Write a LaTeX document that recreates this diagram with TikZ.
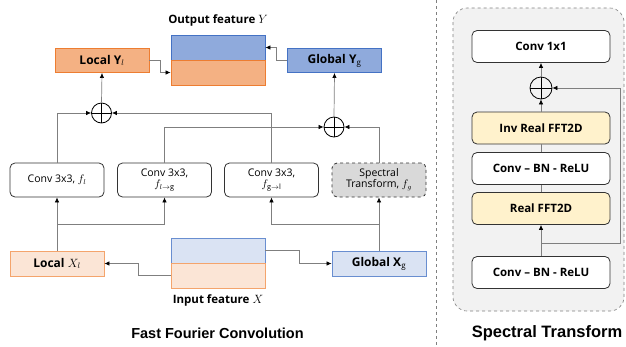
\documentclass[tikz,border=0pt]{standalone}
\usepackage{fontspec}
\setmainfont{Open Sans}
\newfontfamily\titlefont{Liberation Sans}
\usetikzlibrary{arrows.meta}
\definecolor{orF}{HTML}{F4B183}
\definecolor{orD}{HTML}{ED7D31}
\definecolor{blF}{HTML}{8FAADC}
\definecolor{blD}{HTML}{4472C4}
\definecolor{orL}{HTML}{FBE5D6}
\definecolor{orLD}{HTML}{F4A46C}
\definecolor{blL}{HTML}{DAE3F3}
\definecolor{ylF}{HTML}{FFF2CC}
\definecolor{lineC}{HTML}{7F7F7F}
\definecolor{bgG}{HTML}{F2F2F2}
\tikzset{
  feat/.style={draw, line width=0.9pt, minimum width=94pt, minimum height=25pt, inner sep=0pt, font=\bfseries\fontsize{12}{14}\selectfont},
  convbox/.style={draw=black!80, line width=0.8pt, rounded corners=5pt, fill=white, minimum width=94pt, minimum height=34pt, inner sep=1pt, align=center, font=\fontsize{10.5}{12}\selectfont},
  stbox/.style={draw=black!80, line width=0.8pt, rounded corners=5pt, minimum width=138pt, minimum height=32pt, inner sep=0pt, font=\bfseries\fontsize{11.5}{13}\selectfont},
  plus/.style={draw, circle, line width=0.8pt, minimum size=20pt, inner sep=0pt, path picture={
    \draw[line width=0.8pt] (path picture bounding box.north) -- (path picture bounding box.south)
      (path picture bounding box.west) -- (path picture bounding box.east);}},
  conn/.style={draw=lineC, line width=0.7pt},
  arr/.style={conn, -{Latex[length=5pt,width=4.5pt,color=black]}},
  lbl/.style={font=\bfseries\fontsize{11.5}{13}\selectfont},
  ttl/.style={font=\titlefont\bfseries\fontsize{14.5}{16}\selectfont},
}
\begin{document}
\begin{tikzpicture}[x=1pt,y=-1pt]
\useasboundingbox (0,0) rectangle (626,346);
% separator
\draw[lineC, dashed, line width=0.6pt] (436,0) -- (436,346);

% ---------- left panel ----------
\node[lbl] (outT) at (218,20) {Output feature $Y$};
\node[feat, fill=blF, draw=blD] (outB) at (218,47.5) {};
\node[feat, fill=orF, draw=orD] (outO) at (218,72.5) {};
\node[feat, fill=orF, draw=orD, minimum height=24pt] (ly) at (102,60.5) {Local Y$_{l}$};
\node[feat, fill=blF, draw=blD, minimum height=24pt] (gy) at (334.5,60.5) {Global Y$_{\mathrm{g}}$};

\node[plus] (p1) at (101.5,113) {};
\node[plus] (p2) at (334,127) {};

\node[convbox] (c1) at (57,180) {Conv 3x3, $f_l$};
\node[convbox] (c2) at (164.5,180) {Conv 3x3,\\[-1pt]$f_{l\rightarrow \mathrm{g}}$};
\node[convbox] (c3) at (271.5,180) {Conv 3x3,\\[-1pt]$f_{\mathrm{g}\rightarrow \mathrm{l}}$};
\node[convbox, fill=black!15, dashed] (c4) at (379,180) {Spectral\\[-1pt]Transform, $f_g$};

\node[feat, fill=orL, draw=orLD] (lx) at (57,263.5) {Local $X_l$};
\node[feat, fill=blL, draw=blD!80] (gx) at (379,263.5) {Global X$_{\mathrm{g}}$};
\node[feat, fill=blL, draw=blD!80] (inB) at (218,250.5) {};
\node[feat, fill=orL, draw=orLD] (inO) at (218,275.5) {};
\node[lbl] (inT) at (218,300) {Input feature $X$};
\node[ttl] (fftT) at (217.5,333) {Fast Fourier Convolution};

% connectors
\draw[arr] (ly.east) -- (160,60.5) |- (outO.west);
\draw[arr] (gy.west) -- (276,60.5) |- (outB.east);
\draw[arr] (p1.north) -- (ly.south);
\draw[arr] (p2.north) -- (gy.south);
\draw[arr] (c1.north) |- (p1.west);
\draw[arr] (c3.north) |- (p1.east);
\draw[arr] (c2.north) |- (p2.west);
\draw[arr] (c4.north) |- (p2.east);
\draw[arr] (lx.north) -- (c1.south);
\coordinate (bl) at (57,224);
\coordinate (br) at (379,224);
\draw[arr] (bl) -| (c2.south);
\draw[arr] (gx.north) -- (c4.south);
\draw[arr] (br) -| (c3.south);
\draw[arr] (inO.west) -- (138,275.5) |- (lx.east);
\draw[arr] (inB.east) -- (299,250.5) |- (gx.west);

% ---------- right panel ----------
\draw[lineC, dashed, fill=bgG, line width=0.6pt, rounded corners=14pt] (453,8) rectangle (624,311);
\node[stbox, fill=white] (s1) at (541,46.5) {Conv 1x1};
\node[plus, minimum size=22pt] (p3) at (541,88) {};
\node[stbox, fill=ylF] (s2) at (541,128) {Inv Real FFT2D};
\node[stbox, fill=white] (s3) at (541,168.5) {Conv -- BN - ReLU};
\node[stbox, fill=ylF] (s4) at (541,208.5) {Real FFT2D};
\node[stbox, fill=white] (s5) at (541,272.5) {Conv -- BN - ReLU};
\node[ttl, font=\titlefont\bfseries\fontsize{16.5}{18}\selectfont] (stT) at (547,333) {Spectral Transform};

\draw[arr] (p3.north) -- (s1.south);
\draw[arr] (s2.north) -- (p3.south);
\draw[conn] (s3.north) -- (s2.south);
\draw[conn] (s4.north) -- (s3.south);
\draw[arr] (s5.north) -- (s4.south);
\coordinate (sb) at (541,243);
\draw[arr] (sb) -- (620,243) |- (p3.east);
\end{tikzpicture}
\end{document}
